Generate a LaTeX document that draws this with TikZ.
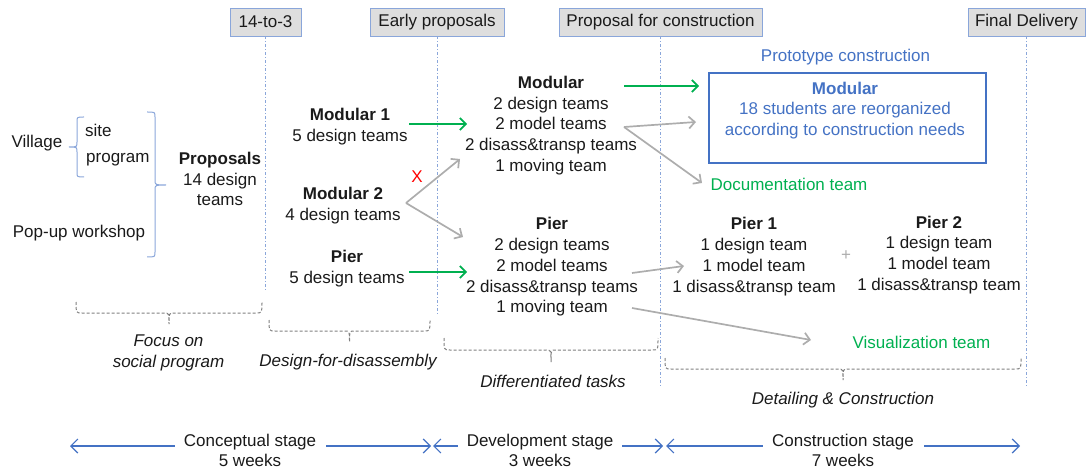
\documentclass[tikz,border=0pt]{standalone}
\usepackage{fontspec}
\setmainfont{Liberation Sans}
\usetikzlibrary{arrows.meta}
\definecolor{hdrfill}{HTML}{DEDEDE}
\definecolor{hdrline}{HTML}{8AA6DA}
\definecolor{stageblue}{HTML}{4472C4}
\definecolor{teamgreen}{HTML}{00B050}
\definecolor{flowgray}{HTML}{ADADAD}
\definecolor{bracketgray}{HTML}{7F7F7F}
\definecolor{inkblack}{HTML}{1A1A1A}

% dashed under-brace: x1, x2, top, bottom, tick end
\newcommand{\ubrace}[5]{%
  \draw[bracket] (#1,#3) .. controls (#1,#4) .. (#1+6,#4)
    -- ({(#1+#2)/2-5},#4) .. controls ({(#1+#2)/2},#4) .. ({(#1+#2)/2},#5)
    .. controls ({(#1+#2)/2},#4) .. ({(#1+#2)/2+5},#4)
    -- (#2-6,#4) .. controls (#2,#4) .. (#2,#3);}

\begin{document}
\begin{tikzpicture}[x=1pt,y=-1pt,
  every node/.style={font=\fontsize{17}{20.8}\selectfont, inner sep=0pt, text=inkblack},
  hdr/.style={draw=hdrline, fill=hdrfill, line width=0.9pt, minimum height=28pt},
  vline/.style={draw=hdrline, line width=1pt, dash pattern=on 3pt off 2pt on 1pt off 2pt},
  team/.style={align=center},
  bluetxt/.style={text=stageblue},
  greentxt/.style={text=teamgreen},
  garrow/.style={draw=teamgreen, line width=1.7pt, -{Straight Barb[length=6pt,width=12pt,line width=1.7pt]}},
  farrow/.style={draw=flowgray, line width=1.7pt, -{Straight Barb[length=6pt,width=12pt,line width=1.7pt]}},
  sarrow/.style={draw=stageblue, line width=1.2pt, -{Straight Barb[length=7pt,width=14pt,line width=1.2pt]}},
  bracket/.style={draw=bracketgray, line width=1pt, dash pattern=on 3pt off 2pt},
  lbrace/.style={draw=hdrline, line width=1pt},
  note/.style={align=center, font=\fontsize{17}{20.8}\selectfont\itshape}
]
\useasboundingbox (0,0) rectangle (1086,470);

% milestones along the top
\node[hdr, minimum width=71pt]  (h1) at (265.5,22) {14-to-3};
\node[hdr, minimum width=134pt] (h2) at (437,22)   {Early proposals};
\node[hdr, minimum width=203pt] (h3) at (660.5,22) {Proposal for construction};
\node[hdr, minimum width=117pt] (h4) at (1026.5,22) {Final Delivery};

\coordinate (e1) at (265.5,292);
\coordinate (e2) at (437,315);
\coordinate (e3) at (660.5,388);
\coordinate (e4) at (1026.5,388);
\draw[vline] (h1.south) -- (e1);
\draw[vline] (h2.south) -- (e2);
\draw[vline] (h3.south) -- (e3);
\draw[vline] (h4.south) -- (e4);

% conceptual inputs
\node (village) at (37,143) {Village};
\node[anchor=west] (site) at (85,130) {site};
\node[anchor=west] (program) at (86,160) {program};
\node (popup) at (79,233) {Pop-up workshop};
\node[team] (proposals) at (220,179) {\textbf{Proposals}\\14 design\\teams};

\draw[lbrace] (84,117) .. controls (77,117) .. (77,122) -- (77,142)
  .. controls (77,147) .. (69,147) .. controls (77,147) .. (77,152)
  -- (77,172) .. controls (77,177) .. (84,177);
\draw[lbrace] (147,112) .. controls (155,112) .. (155,117) -- (155,180)
  .. controls (155,185) .. (166,185) .. controls (155,185) .. (155,190)
  -- (155,252) .. controls (155,257) .. (147,257);

% early proposals
\node[team] (m1) at (350,126.5) {\textbf{Modular 1}\\5 design teams};
\node[team] (m2) at (343,206)   {\textbf{Modular 2}\\4 design teams};
\node[team] (p0) at (347,268.5) {\textbf{Pier}\\5 design teams};
\node[text=red] (cross) at (417,177) {X};

% proposals for construction
\node[team] (mod)  at (551,125.5) {\textbf{Modular}\\2 design teams\\2 model teams\\2 disass\&transp teams\\1 moving team};
\node[team] (pier) at (552,267)   {\textbf{Pier}\\2 design teams\\2 model teams\\2 disass\&transp teams\\1 moving team};

% construction stage
\node[bluetxt] (ptitle) at (845.5,57) {Prototype construction};
\node[draw=stageblue, line width=1.2pt, minimum width=277pt, minimum height=90pt] (pbox) at (847.5,118) {};
\node[team, bluetxt] (pmod) at (845,110.5) {\textbf{Modular}\\18 students are reorganized\\according to construction needs};
\node[greentxt] (doc) at (789,184) {Documentation team};
\node[team] (pier1) at (754,256.5) {\textbf{Pier 1}\\1 design team\\1 model team\\1 disass\&transp team};
\node[text=flowgray] (plus) at (846,256) {+};
\node[team] (pier2) at (939,255) {\textbf{Pier 2}\\1 design team\\1 model team\\1 disass\&transp team};
\node[greentxt] (vis) at (921.5,342) {Visualization team};

% connector ends
\coordinate (m1o) at (409,124);   \coordinate (modA) at (467,124);
\coordinate (p0o) at (409,272);   \coordinate (pierA) at (467,272);
\coordinate (m2o) at (406,203);   \coordinate (modB) at (460,159);
\coordinate (pierB) at (463,237);
\coordinate (modg) at (624,86);   \coordinate (boxA) at (699,86);
\coordinate (modo) at (624,127);  \coordinate (boxB) at (696,122);
\coordinate (docA) at (702,183);
\coordinate (piero) at (632,273); \coordinate (pier1A) at (684,266);
\coordinate (piero2) at (632,308); \coordinate (visA) at (811,340);

\draw[garrow] (m1o) -- (modA);
\draw[garrow] (p0o) -- (pierA);
\draw[garrow] (modg) -- (boxA);
\draw[farrow] (m2o) -- (modB);
\draw[farrow] (m2o) -- (pierB);
\draw[farrow] (modo) -- (boxB);
\draw[farrow] (modo) -- (docA);
\draw[farrow] (piero) -- (pier1A);
\draw[farrow] (piero2) -- (visA);

% phase braces and notes
\ubrace{76}{262}{302}{313}{324}
\ubrace{269}{430}{320}{331}{342}
\ubrace{444}{658}{338}{350}{362}
\ubrace{665}{1021}{358}{369}{380}
\node[note] (n1) at (168.5,353) {Focus on\\social program};
\node[note] (n2) at (348,362) {Design-for-disassembly};
\node[note] (n3) at (553,381) {Differentiated tasks};
\node[note] (n4) at (843,400) {Detailing \& Construction};

% stages
\node[team] (s1) at (250,450.5) {Conceptual stage\\5 weeks};
\node[team] (s2) at (540,450.5) {Development stage\\3 weeks};
\node[team] (s3) at (843,450.5) {Construction stage\\7 weeks};
\coordinate (s1l) at (70,446);  \coordinate (s1r) at (431,446);
\coordinate (s2l) at (433,446); \coordinate (s2r) at (663,446);
\coordinate (s3l) at (666,446); \coordinate (s3r) at (1020,446);
\draw[sarrow] (s1.west |- s1l) ++(-9,0) coordinate (s1a) -- (s1l);
\draw[sarrow] (s1.east |- s1r) ++(10,0) coordinate (s1b) -- (s1r);
\draw[sarrow] (s2.west |- s2l) ++(-9,0) coordinate (s2a) -- (s2l);
\draw[sarrow] (s2.east |- s2r) ++(9,0) coordinate (s2b) -- (s2r);
\draw[sarrow] (s3.west |- s3l) ++(-9,0) coordinate (s3a) -- (s3l);
\draw[sarrow] (s3.east |- s3r) ++(10,0) coordinate (s3b) -- (s3r);
\end{tikzpicture}
\end{document}
